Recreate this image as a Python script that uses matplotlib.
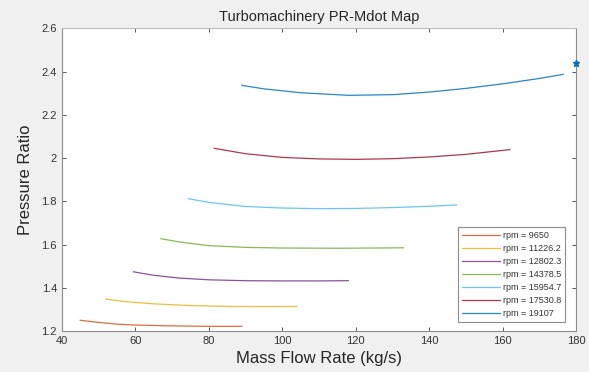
import matplotlib.pyplot as plt
import numpy as np

plt.rcParams['font.family'] = ['Liberation Sans', 'DejaVu Sans']

# rpm lines
rpm_labels = ["rpm = 9650", "rpm = 11226.2", "rpm = 12802.3", "rpm = 14378.5",
              "rpm = 15954.7", "rpm = 17530.8", "rpm = 19107"]

mdot_9650 = [45, 50, 55, 60, 70, 80, 89]
pr_9650 = [1.250, 1.240, 1.232, 1.228, 1.224, 1.222, 1.222]

mdot_11226 = [52, 58, 65, 75, 85, 95, 104]
pr_11226 = [1.348, 1.335, 1.326, 1.318, 1.314, 1.313, 1.314]

mdot_12802 = [59.5, 65, 72, 80, 90, 100, 110, 118]
pr_12802 = [1.474, 1.458, 1.445, 1.437, 1.433, 1.432, 1.432, 1.433]

mdot_14378 = [67, 72, 80, 90, 100, 115, 133]
pr_14378 = [1.627, 1.612, 1.595, 1.587, 1.584, 1.583, 1.585]

mdot_15954 = [74.5, 80, 90, 100, 110, 120, 130, 140, 147.5]
pr_15954 = [1.812, 1.795, 1.776, 1.769, 1.766, 1.767, 1.771, 1.777, 1.783]

mdot_17530 = [81.5, 90, 100, 110, 120, 130, 140, 150, 162]
pr_17530 = [2.045, 2.020, 2.003, 1.996, 1.994, 1.997, 2.005, 2.017, 2.039]

mdot_19107 = [89, 95, 105, 118, 130, 140, 150, 160, 170, 176.5]
pr_19107 = [2.336, 2.320, 2.302, 2.290, 2.293, 2.305, 2.322, 2.343, 2.368, 2.387]

design_mdot = [180]
design_pr = [2.44]

mdots = [mdot_9650, mdot_11226, mdot_12802, mdot_14378, mdot_15954, mdot_17530, mdot_19107]
prs = [pr_9650, pr_11226, pr_12802, pr_14378, pr_15954, pr_17530, pr_19107]

# matlab default order, blue goes to the design point first
colors = ['#D95319', '#EDB120', '#7E2F8E', '#77AC30', '#4DBEEE', '#A2142F', '#0072BD']

fig = plt.figure(figsize=(5.89, 3.72), dpi=100, facecolor='#F0F0F0')
ax = fig.add_axes([0.105, 0.110, 0.873, 0.814])
ax.set_facecolor('white')

ax.plot(design_mdot, design_pr, '*', color='#0072BD', markersize=5, clip_on=False, zorder=5)
for x, y, c, lab in zip(mdots, prs, colors, rpm_labels):
    ax.plot(x, y, color=c, linewidth=0.9, alpha=0.85, label=lab)

ax.set_xlim(40, 180)
ax.set_ylim(1.2, 2.6)
ax.set_xticks(np.arange(40, 181, 20))
ax.set_yticks(np.arange(1.2, 2.61, 0.2))
ax.set_yticklabels(["1.2", "1.4", "1.6", "1.8", "2", "2.2", "2.4", "2.6"])

ax.tick_params(direction='in', length=3, width=0.7, top=True, right=True,
               labelsize=8, colors='#555555', labelcolor='#333333')
for s in ax.spines.values():
    s.set_color('#8C8C8C')
    s.set_linewidth(0.8)
ax.spines['top'].set_color('#BDBDBD')

ax.set_title("Turbomachinery PR-Mdot Map", fontsize=10.5, color='#262626', pad=5)
ax.set_xlabel("Mass Flow Rate (kg/s)", fontsize=12, color='#262626', labelpad=4)
ax.set_ylabel("Pressure Ratio", fontsize=12, color='#262626', labelpad=6)

leg = ax.legend(loc='lower right', bbox_to_anchor=(0.979, 0.03), borderaxespad=0,
                fontsize=6.5, handlelength=4.2, handletextpad=0.4, labelspacing=0.45,
                fancybox=False, edgecolor='#8C8C8C', framealpha=1)
leg.get_frame().set_linewidth(0.8)
for t in leg.get_texts():
    t.set_color('#333333')

fig.savefig("out.png", dpi=100, facecolor=fig.get_facecolor())
